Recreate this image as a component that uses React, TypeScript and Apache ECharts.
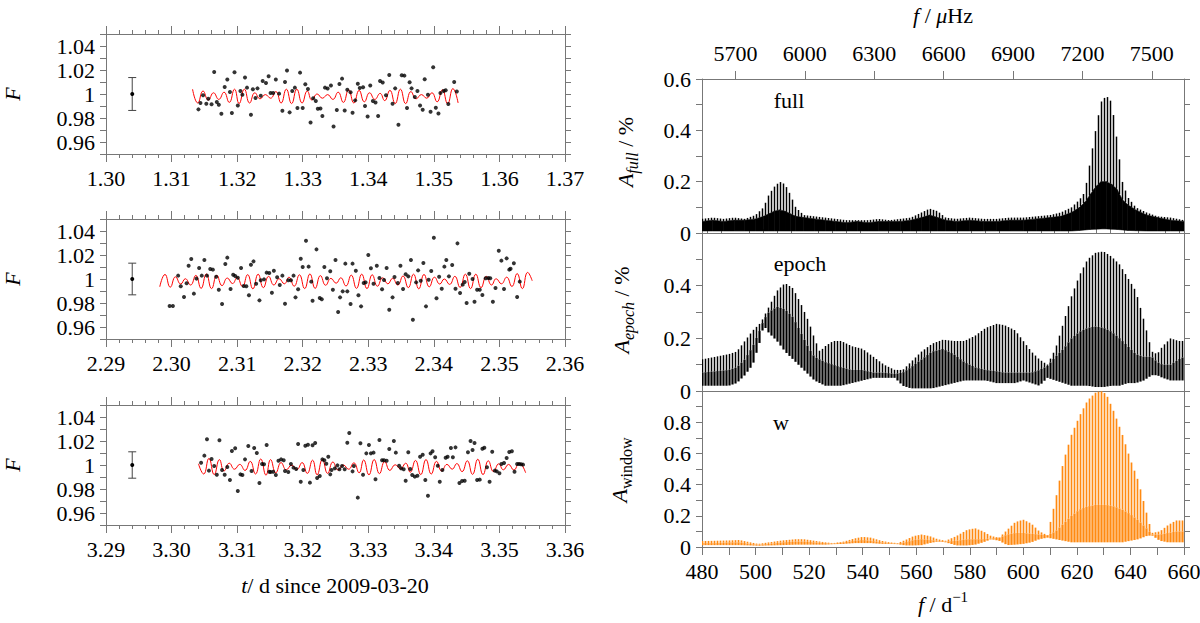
import React, { useEffect, useRef } from "react";
import * as echarts from "echarts";

// ---------------- light-curve panels (left) ----------------
const T_MIN = [1.3, 2.29, 3.29];
const T_SPAN = 0.07;

const T1 = [1.3141,1.3144,1.3148,1.3153,1.3156,1.3161,1.3165,1.3169,1.3172,1.3176,1.3181,1.3185,1.3189,1.3192,1.3196,1.3201,1.3205,1.3208,1.3212,1.3215,1.3221,1.3224,1.3228,1.3231,1.3236,1.3239,1.3244,1.3248,1.3251,1.3255,1.3259,1.3264,1.3269,1.3273,1.3276,1.3280,1.3284,1.3288,1.3292,1.3296,1.3300,1.3304,1.3308,1.3312,1.3316,1.3320,1.3323,1.3327,1.3330,1.3334,1.3338,1.3343,1.3347,1.3352,1.3356,1.3360,1.3364,1.3368,1.3373,1.3376,1.3380,1.3384,1.3387,1.3392,1.3395,1.3399,1.3403,1.3407,1.3411,1.3415,1.3418,1.3422,1.3427,1.3432,1.3437,1.3441,1.3446,1.3451,1.3455,1.3459,1.3463,1.3466,1.3471,1.3475,1.3479,1.3483,1.3486,1.3491,1.3495,1.3499,1.3503,1.3507,1.3510,1.3515,1.3518,1.3522,1.3531,1.3535];
const F1 = [0.9872,0.9925,0.9989,0.9919,0.9961,0.9914,1.0184,0.9933,0.9911,0.9836,1.0059,1.0120,1.0017,0.9841,1.0181,0.9905,1.0025,0.9994,1.0137,1.0053,0.9827,1.0039,0.9967,1.0047,0.9986,1.0109,1.0092,1.0148,1.0008,1.0008,1.0120,1.0003,0.9861,1.0100,1.0195,0.9847,1.0025,1.0053,0.9883,1.0178,0.9883,1.0081,1.0042,0.9763,0.9964,0.9941,0.9877,0.9880,0.9816,1.0053,1.0045,1.0070,0.9730,0.9866,1.0084,1.0128,0.9863,1.0036,1.0014,0.9844,0.9947,1.0086,1.0050,1.0056,0.9900,0.9813,1.0070,0.9941,0.9930,0.9816,1.0109,1.0095,0.9989,1.0159,0.9919,1.0047,0.9744,1.0156,1.0153,0.9883,1.0098,1.0047,0.9975,1.0025,0.9905,0.9869,1.0123,0.9994,0.9852,1.0223,0.9886,0.9838,1.0008,1.0025,1.0031,0.9916,1.0100,1.0020];

const T2 = [2.2997,2.3002,2.3010,2.3014,2.3019,2.3023,2.3026,2.3030,2.3034,2.3038,2.3042,2.3046,2.3050,2.3054,2.3059,2.3063,2.3068,2.3072,2.3077,2.3082,2.3085,2.3090,2.3094,2.3097,2.3101,2.3106,2.3110,2.3114,2.3118,2.3121,2.3125,2.3129,2.3134,2.3136,2.3141,2.3145,2.3149,2.3153,2.3156,2.3161,2.3165,2.3169,2.3173,2.3178,2.3182,2.3186,2.3189,2.3193,2.3197,2.3200,2.3205,2.3209,2.3213,2.3215,2.3221,2.3226,2.3229,2.3233,2.3237,2.3242,2.3246,2.3250,2.3254,2.3257,2.3261,2.3265,2.3268,2.3273,2.3276,2.3281,2.3285,2.3289,2.3293,2.3296,2.3300,2.3304,2.3308,2.3313,2.3317,2.3321,2.3324,2.3328,2.3332,2.3337,2.3340,2.3345,2.3349,2.3353,2.3357,2.3361,2.3365,2.3368,2.3373,2.3376,2.3380,2.3384,2.3388,2.3392,2.3396,2.3400,2.3404,2.3408,2.3412,2.3416,2.3419,2.3423,2.3428,2.3433,2.3436,2.3440,2.3444,2.3447,2.3450,2.3454,2.3459,2.3462,2.3466,2.3470,2.3474,2.3479,2.3483,2.3486,2.3490,2.3494,2.3499,2.3503,2.3507,2.3511,2.3515,2.3517,2.3522,2.3527,2.3531];
const F2 = [0.9775,0.9775,1.0028,0.9939,0.9850,0.9964,1.0111,1.0167,0.9878,1.0003,1.0092,1.0028,1.0158,1.0028,1.0083,1.0078,1.0019,0.9911,0.9792,1.0125,1.0178,0.9917,1.0036,1.0025,1.0011,1.0092,0.9942,0.9939,0.9864,1.0119,1.0147,0.9961,0.9822,0.9989,0.9997,1.0053,1.0050,0.9886,1.0069,1.0014,0.9950,1.0028,0.9794,0.9989,0.9989,1.0028,0.9847,0.9914,1.0169,1.0100,1.0319,1.0103,0.9978,0.9819,1.0247,0.9842,0.9831,1.0100,1.0006,1.0064,0.9911,1.0158,0.9725,0.9847,0.9897,1.0128,0.9897,0.9792,1.0128,1.0069,0.9864,0.9772,0.9967,0.9972,1.0200,1.0089,0.9961,1.0111,1.0008,0.9914,0.9992,1.0092,0.9744,0.9847,1.0017,0.9967,1.0111,0.9917,1.0039,1.0022,1.0158,0.9661,0.9972,1.0072,0.9986,1.0133,0.9772,0.9994,1.0067,1.0344,0.9839,1.0019,0.9919,1.0103,1.0158,1.0022,1.0117,0.9919,1.0297,0.9883,0.9953,0.9975,0.9800,1.0044,1.0000,0.9811,0.9911,0.9911,0.9867,1.0006,1.0008,1.0006,0.9811,0.9925,1.0236,1.0153,0.9917,1.0172,1.0078,1.0086,1.0131,0.9850,0.9978];

const T3 = [3.3045,3.3050,3.3054,3.3057,3.3061,3.3065,3.3069,3.3073,3.3077,3.3081,3.3085,3.3089,3.3092,3.3097,3.3101,3.3105,3.3108,3.3112,3.3117,3.3122,3.3126,3.3130,3.3134,3.3138,3.3141,3.3145,3.3149,3.3151,3.3155,3.3159,3.3163,3.3167,3.3171,3.3173,3.3178,3.3182,3.3186,3.3190,3.3193,3.3197,3.3201,3.3204,3.3208,3.3211,3.3215,3.3219,3.3222,3.3226,3.3230,3.3233,3.3236,3.3239,3.3242,3.3244,3.3249,3.3253,3.3256,3.3260,3.3264,3.3268,3.3271,3.3276,3.3278,3.3284,3.3288,3.3292,3.3297,3.3301,3.3304,3.3308,3.3311,3.3317,3.3321,3.3324,3.3328,3.3332,3.3339,3.3342,3.3347,3.3350,3.3354,3.3357,3.3361,3.3364,3.3367,3.3371,3.3375,3.3379,3.3383,3.3387,3.3391,3.3395,3.3398,3.3402,3.3406,3.3409,3.3413,3.3418,3.3421,3.3426,3.3429,3.3433,3.3439,3.3443,3.3447,3.3452,3.3456,3.3459,3.3462,3.3466,3.3470,3.3474,3.3477,3.3481,3.3485,3.3489,3.3493,3.3496,3.3500,3.3503,3.3507,3.3511,3.3515,3.3519,3.3523,3.3527,3.3530,3.3533,3.3536];
const F3 = [1.0019,1.0078,1.0214,0.9953,1.0050,0.9992,0.9919,1.0206,0.9958,0.9919,0.9983,0.9875,1.0117,1.0139,0.9783,0.9922,0.9917,1.0047,1.0158,0.9950,1.0142,1.0100,0.9850,1.0008,1.0006,1.0167,0.9944,0.9942,0.9944,0.9917,1.0036,1.0047,1.0039,0.9950,0.9942,1.0008,0.9978,0.9967,1.0175,0.9861,0.9958,1.0161,1.0169,0.9853,1.0164,1.0183,0.9892,0.9908,1.0047,1.0039,1.0011,1.0069,0.9922,0.9958,0.9972,0.9997,0.9964,0.9992,0.9964,1.0186,1.0267,0.9947,0.9992,0.9728,1.0181,0.9919,1.0097,1.0167,1.0097,1.0103,0.9881,1.0208,1.0039,1.0039,1.0036,1.0133,1.0200,1.0103,0.9994,0.9972,0.9964,0.9869,1.0106,0.9967,0.9917,0.9903,0.9911,1.0069,1.0086,0.9875,0.9744,1.0097,1.0114,1.0064,0.9994,0.9861,0.9958,1.0061,1.0069,1.0142,1.0064,1.0147,0.9850,0.9867,0.9869,1.0106,1.0200,1.0125,1.0183,0.9875,0.9878,1.0136,1.0144,0.9981,0.9861,1.0111,0.9953,0.9947,0.9931,1.0008,1.0017,1.0058,1.0108,1.0114,0.9944,1.0008,1.0008,1.0006,1.0003];

// model curves (extrema)
const M1_T = [1.3132,1.3140,1.3148,1.3156,1.3164,1.3172,1.3180,1.3188,1.3196,1.3203,1.3211,1.3219,1.3227,1.3235,1.3243,1.3251,1.3259,1.3267,1.3275,1.3283,1.3291,1.3299,1.3307,1.3314,1.3322,1.3330,1.3338,1.3346,1.3354,1.3362,1.3370,1.3378,1.3386,1.3394,1.3402,1.3410,1.3418,1.3425,1.3433,1.3441,1.3449,1.3457,1.3465,1.3473,1.3481,1.3489,1.3497,1.3505,1.3513,1.3521,1.3529,1.3537];
const M1_F = [1.0040,0.9925,1.0025,0.9950,1.0010,0.9955,1.0015,0.9930,1.0040,0.9920,1.0040,0.9925,1.0010,0.9960,0.9995,0.9965,1.0020,0.9925,1.0040,0.9920,1.0040,0.9925,1.0025,0.9950,1.0000,0.9965,0.9995,0.9955,1.0015,0.9930,1.0035,0.9925,1.0030,0.9935,1.0010,0.9955,1.0005,0.9945,1.0030,0.9920,1.0040,0.9920,1.0020,0.9960,0.9995,0.9965,1.0010,0.9935,1.0035,0.9920,1.0045,0.9925];
const M2_T = [2.2982,2.2990,2.2998,2.3006,2.3014,2.3021,2.3029,2.3037,2.3045,2.3053,2.3061,2.3069,2.3077,2.3085,2.3093,2.3100,2.3108,2.3116,2.3124,2.3132,2.3140,2.3148,2.3156,2.3164,2.3172,2.3179,2.3187,2.3195,2.3203,2.3211,2.3219,2.3227,2.3235,2.3243,2.3251,2.3258,2.3266,2.3274,2.3282,2.3290,2.3298,2.3306,2.3314,2.3322,2.3330,2.3337,2.3345,2.3353,2.3361,2.3369,2.3377,2.3385,2.3393,2.3401,2.3409,2.3416,2.3424,2.3432,2.3440,2.3448,2.3456,2.3464,2.3472,2.3480,2.3488,2.3495,2.3503,2.3511,2.3519,2.3527,2.3535,2.3543,2.3550];
const M2_F = [0.9935,1.0038,0.9932,1.0018,0.9958,1.0002,0.9950,1.0030,0.9922,1.0042,0.9920,1.0030,0.9945,1.0008,0.9962,1.0012,0.9938,1.0036,0.9918,1.0040,0.9928,1.0022,0.9950,1.0002,0.9960,1.0015,0.9940,1.0035,0.9920,1.0042,0.9922,1.0028,0.9948,1.0005,0.9965,1.0010,0.9942,1.0032,0.9922,1.0040,0.9920,1.0035,0.9940,1.0010,0.9960,1.0005,0.9950,1.0025,0.9928,1.0040,0.9918,1.0038,0.9935,1.0015,0.9958,1.0000,0.9955,1.0022,0.9930,1.0040,0.9920,1.0040,0.9928,1.0022,0.9950,1.0002,0.9960,1.0015,0.9938,1.0045,0.9920,1.0055,0.9985];
const M3_T = [3.3041,3.3049,3.3057,3.3065,3.3073,3.3080,3.3088,3.3096,3.3104,3.3112,3.3120,3.3128,3.3136,3.3144,3.3151,3.3159,3.3167,3.3175,3.3183,3.3191,3.3199,3.3207,3.3215,3.3222,3.3230,3.3238,3.3246,3.3254,3.3262,3.3270,3.3278,3.3286,3.3293,3.3301,3.3309,3.3317,3.3325,3.3333,3.3341,3.3349,3.3357,3.3364,3.3372,3.3380,3.3388,3.3396,3.3404,3.3412,3.3420,3.3428,3.3435,3.3443,3.3451,3.3459,3.3467,3.3475,3.3483,3.3491,3.3499,3.3506,3.3514,3.3522,3.3530,3.3540];
const M3_F = [1.0010,0.9925,1.0055,0.9920,1.0045,0.9950,1.0015,0.9965,1.0005,0.9955,1.0030,0.9925,1.0050,0.9915,1.0045,0.9935,1.0020,0.9960,0.9998,0.9962,1.0020,0.9930,1.0040,0.9918,1.0045,0.9930,1.0025,0.9958,1.0000,0.9965,1.0018,0.9935,1.0042,0.9918,1.0045,0.9928,1.0028,0.9955,1.0002,0.9968,1.0015,0.9940,1.0038,0.9920,1.0045,0.9925,1.0030,0.9950,1.0005,0.9965,1.0012,0.9945,1.0035,0.9922,1.0048,0.9920,1.0035,0.9945,1.0010,0.9960,1.0005,0.9958,1.0015,0.9935];

const ERR_T = [1.304, 2.294, 3.294];
const ERR_F = [1, 1, 1];
const ERR_E = [0.0137, 0.0132, 0.011];

// ---------------- amplitude spectra (right) ----------------
// envelopes: P = alias-peak tips, S = inner (secondary) envelope, L = lower ends
const FU_F = [480,484,488,492,496,500,503,505,507,509,511,513,515,518,522,526,530,534,538,542,546,550,554,558,562,565,568,571,575,580,585,590,595,600,605,610,614,618,621,623,625,627,629,631,633,635,637,639,642,646,650,655,660];
const FU_P = [0.055,0.06,0.055,0.06,0.055,0.07,0.10,0.15,0.18,0.20,0.19,0.15,0.10,0.07,0.065,0.06,0.055,0.05,0.05,0.05,0.055,0.05,0.055,0.06,0.08,0.095,0.085,0.06,0.055,0.06,0.055,0.055,0.06,0.06,0.065,0.07,0.08,0.10,0.13,0.16,0.28,0.40,0.51,0.535,0.51,0.36,0.20,0.14,0.10,0.08,0.065,0.06,0.05];
const FU_S = [0.045,0.05,0.045,0.05,0.05,0.055,0.065,0.075,0.085,0.09,0.085,0.075,0.065,0.06,0.055,0.05,0.045,0.04,0.045,0.04,0.045,0.045,0.045,0.05,0.06,0.07,0.06,0.05,0.045,0.05,0.045,0.045,0.05,0.05,0.055,0.06,0.065,0.08,0.10,0.12,0.15,0.18,0.20,0.20,0.19,0.17,0.13,0.11,0.09,0.07,0.06,0.05,0.045];
const FU_L = [0.008,0.008,0.008,0.008,0.008,0.008,0.008,0.008,0.008,0.008,0.008,0.008,0.008,0.008,0.008,0.008,0.008,0.008,0.008,0.008,0.008,0.008,0.008,0.008,0.008,0.008,0.008,0.008,0.008,0.008,0.008,0.008,0.008,0.008,0.008,0.008,0.008,0.008,0.01,0.012,0.014,0.015,0.016,0.016,0.015,0.014,0.012,0.01,0.009,0.008,0.008,0.008,0.008];

const EP_F = [480,485,490,493,496,499,502,503,505,508,511,514,517,520,522,524,526,529,532,536,540,544,548,552,555,558,562,566,570,574,578,582,586,590,593,597,600,603,606,609,612,615,618,621,624,627,630,633,636,639,642,645,648,650,652,655,658,660];
const EP_P = [0.12,0.13,0.14,0.15,0.19,0.23,0.26,0.28,0.32,0.38,0.41,0.39,0.33,0.26,0.20,0.15,0.17,0.19,0.19,0.17,0.16,0.13,0.10,0.08,0.08,0.11,0.15,0.18,0.195,0.19,0.19,0.21,0.24,0.255,0.25,0.23,0.19,0.15,0.12,0.10,0.16,0.26,0.36,0.44,0.50,0.525,0.53,0.51,0.48,0.43,0.38,0.27,0.15,0.14,0.17,0.20,0.19,0.19];
const EP_S = [0.07,0.075,0.08,0.09,0.12,0.17,0.24,0.27,0.30,0.32,0.31,0.28,0.22,0.16,0.13,0.12,0.11,0.10,0.09,0.08,0.08,0.07,0.07,0.065,0.07,0.09,0.12,0.15,0.16,0.14,0.11,0.09,0.08,0.075,0.07,0.07,0.07,0.07,0.08,0.095,0.13,0.16,0.20,0.225,0.24,0.245,0.24,0.225,0.20,0.17,0.14,0.13,0.13,0.11,0.10,0.10,0.12,0.13];
const EP_L = [0.02,0.02,0.02,0.03,0.06,0.10,0.20,0.25,0.22,0.19,0.15,0.12,0.09,0.06,0.04,0.03,0.02,0.02,0.02,0.03,0.04,0.05,0.05,0.05,0.02,0.01,0.01,0.01,0.02,0.03,0.04,0.04,0.04,0.03,0.03,0.03,0.04,0.03,0.02,0.05,0.04,0.03,0.02,0.02,0.02,0.015,0.015,0.02,0.02,0.03,0.03,0.04,0.06,0.06,0.05,0.04,0.04,0.04];

const WI_F = [480,485,490,494,498,501,505,510,515,518,522,526,529,533,537,540,543,547,550,553,556,559,562,565,568,571,575,579,582,585,588,591,594,597,600,603,606,609,612,615,618,621,624,627,629,631,634,637,640,643,646,648,651,654,657,660];
const WI_P = [0.038,0.04,0.042,0.045,0.03,0.02,0.03,0.042,0.05,0.05,0.04,0.03,0.025,0.035,0.055,0.065,0.06,0.04,0.03,0.025,0.045,0.07,0.08,0.07,0.05,0.04,0.07,0.11,0.12,0.10,0.07,0.06,0.11,0.16,0.175,0.15,0.10,0.075,0.30,0.55,0.72,0.84,0.94,0.99,1.0,0.98,0.86,0.72,0.56,0.42,0.22,0.09,0.10,0.14,0.17,0.17];
const WI_S = [0.025,0.025,0.03,0.03,0.02,0.015,0.02,0.03,0.035,0.035,0.03,0.025,0.022,0.03,0.04,0.045,0.04,0.03,0.025,0.022,0.03,0.045,0.05,0.045,0.04,0.035,0.04,0.05,0.05,0.05,0.055,0.06,0.08,0.09,0.09,0.085,0.08,0.075,0.10,0.15,0.20,0.24,0.26,0.27,0.27,0.27,0.26,0.24,0.21,0.17,0.12,0.08,0.08,0.09,0.10,0.10];
const WI_L = [0.012,0.012,0.012,0.012,0.01,0.008,0.01,0.012,0.015,0.015,0.015,0.015,0.018,0.02,0.025,0.025,0.025,0.02,0.02,0.018,0.01,0.01,0.012,0.025,0.035,0.03,0.01,0.01,0.015,0.03,0.05,0.04,0.012,0.015,0.02,0.03,0.05,0.06,0.05,0.04,0.03,0.03,0.03,0.03,0.03,0.03,0.03,0.03,0.04,0.05,0.07,0.075,0.04,0.03,0.03,0.03];

// top axis in µHz
const MU_MAJOR = [5700, 6000, 6300, 6600, 6900, 7200, 7500];
const MU_MINOR = [5580,5640,5760,5820,5880,5940,6060,6120,6180,6240,6360,6420,6480,6540,6660,6720,6780,6840,6960,7020,7080,7140,7260,7320,7380,7440,7560,7620];
const D_PER_UHZ = 0.0864; // 1 µHz in d^-1

// ---------------- styling ----------------
const FONT = '"Liberation Serif", "Times New Roman", Times, serif';
const FS = 22;
const AXC = "#777777";
const ORANGE = "#ff8a12";
const HATCH = 3; // hatch spacing in px

const ls = { color: AXC, width: 1 };

// comb-like hatch between envelopes, drawn through the axes' coordinates
function hatchSeries(F: number[], P: number[], S: number[], L: number[], xi: number, yi: number, color: string, wDark: number, wLight: number, solidDark: boolean) {
  return {
    type: "custom", xAxisIndex: xi, yAxisIndex: yi, clip: true, silent: true, z: 2,
    data: F.map((f, i) => [f, L[i], S[i], P[i]]),
    renderItem: (params: any, api: any) => {
      const i = params.dataIndex;
      if (i >= F.length - 1) return null;
      const origin = Math.round(api.coord([F[0], 0])[0]);
      const l0 = api.coord([api.value(0), api.value(1)]);
      const s0 = api.coord([api.value(0), api.value(2)]);
      const p0 = api.coord([api.value(0), api.value(3)]);
      const l1 = api.coord([F[i + 1], L[i + 1]]);
      const s1 = api.coord([F[i + 1], S[i + 1]]);
      const p1 = api.coord([F[i + 1], P[i + 1]]);
      const x0 = l0[0], x1 = l1[0];
      const children: any[] = [];
      if (solidDark) {
        children.push({ type: "polygon", shape: { points: [l0, l1, s1, s0] }, style: { fill: color, stroke: color, lineWidth: 0.6 } });
      }
      const n0 = Math.ceil((x0 - origin - 0.5) / HATCH);
      for (let n = n0; origin + n * HATCH + 0.5 < x1; n++) {
        const x = origin + n * HATCH + 0.5;
        const t = (x - x0) / (x1 - x0);
        const yl = l0[1] + t * (l1[1] - l0[1]);
        const ys = s0[1] + t * (s1[1] - s0[1]);
        const yp = p0[1] + t * (p1[1] - p0[1]);
        if (!solidDark) {
          children.push({ type: "line", shape: { x1: x, y1: yl, x2: x, y2: ys }, style: { stroke: color, lineWidth: wDark } });
        }
        children.push({ type: "line", shape: { x1: x, y1: ys, x2: x, y2: yp }, style: { stroke: color, lineWidth: wLight } });
      }
      return { type: "group", children };
    },
  };
}

function buildOption() {
  const grid: any[] = [
    ...[34, 219, 405].map((top) => ({ left: 106, top, width: 459, height: 120 })),
    { left: 702, top: 79, width: 482, height: 154 },
    { left: 702, top: 233, width: 482, height: 158 },
    { left: 702, top: 391, width: 482, height: 156 },
    { left: 702, top: 79, width: 482, height: 154 },
  ].map((g) => ({ ...g, containLabel: false, outerBoundsMode: "none" }));

  const xAxis: any[] = [];
  const yAxis: any[] = [];
  for (let i = 0; i < 3; i++) {
    for (const pos of ["bottom", "top"]) {
      xAxis.push({
        gridIndex: i, type: "value", position: pos,
        min: T_MIN[i], max: +(T_MIN[i] + T_SPAN).toFixed(2), interval: 0.01,
        axisLine: { show: true, onZero: false, lineStyle: ls },
        axisTick: { show: true, length: 8, lineStyle: ls },
        minorTick: { show: true, splitNumber: 5, length: 4, lineStyle: ls },
        splitLine: { show: false },
        axisLabel: {
          show: pos === "bottom", fontFamily: FONT, fontSize: FS, color: "#000", margin: 13,
          formatter: (v: number) => v.toFixed(2),
        },
      });
    }
    for (const pos of ["left", "right"]) {
      yAxis.push({
        gridIndex: i, type: "value", position: pos, min: 0.95, max: 1.05, interval: 0.01,
        axisLine: { show: true, onZero: false, lineStyle: ls },
        axisTick: { show: true, length: 6, lineStyle: ls },
        splitLine: { show: false },
        axisLabel: {
          show: pos === "left", fontFamily: FONT, fontSize: FS, color: "#000", margin: 11,
          formatter: (v: number) => {
            const k = Math.round(v * 100);
            if (k % 2 !== 0 || k < 96 || k > 104) return "";
            return k === 100 ? "1" : (k / 100).toFixed(2);
          },
        },
      });
    }
  }
  // right: x axes  (6: full bottom, 7: full top µHz, 8: epoch bottom, 9: window bottom, 10: µHz minor)
  const plainX = (g: number) => ({
    gridIndex: g, type: "value", position: "bottom", min: 480, max: 660,
    axisLine: { show: true, onZero: false, lineStyle: ls },
    axisTick: { show: false }, axisLabel: { show: false }, splitLine: { show: false },
  });
  xAxis.push(plainX(3));
  xAxis.push({
    gridIndex: 3, type: "value", position: "top", min: 480, max: 660,
    axisLine: { show: true, onZero: false, lineStyle: ls },
    axisTick: { show: true, length: 8, lineStyle: ls, customValues: MU_MAJOR.map((u) => u * D_PER_UHZ) },
    axisLabel: {
      show: true, fontFamily: FONT, fontSize: FS, color: "#000", margin: 15,
      customValues: MU_MAJOR.map((u) => u * D_PER_UHZ),
      formatter: (v: number) => String(Math.round(v / D_PER_UHZ)),
    },
    splitLine: { show: false },
  });
  xAxis.push(plainX(4));
  xAxis.push({
    gridIndex: 5, type: "value", position: "bottom", min: 480, max: 660, interval: 10,
    axisLine: { show: true, onZero: false, lineStyle: ls },
    axisTick: { show: true, length: 8, lineStyle: ls },
    splitLine: { show: false },
    axisLabel: {
      show: true, fontFamily: FONT, fontSize: FS, color: "#000", margin: 13,
      formatter: (v: number) => (Math.round(v) % 20 === 0 ? String(Math.round(v)) : ""),
    },
  });
  xAxis.push({
    gridIndex: 6, type: "value", position: "top", min: 480, max: 660,
    axisLine: { show: false },
    axisTick: { show: true, length: 4, lineStyle: ls, customValues: MU_MINOR.map((u) => u * D_PER_UHZ) },
    axisLabel: { show: false }, splitLine: { show: false },
  });
  // right: y axes (6/7 full, 8/9 epoch, 10/11 window, 12 dummy)
  const rightY = (g: number, max: number, hideTop: boolean) =>
    ["left", "right"].map((pos) => ({
      gridIndex: g, type: "value", position: pos, min: 0, max, interval: 0.1,
      axisLine: { show: true, onZero: false, lineStyle: ls },
      axisTick: { show: true, length: 6, lineStyle: ls },
      splitLine: { show: false },
      axisLabel: {
        show: pos === "left", fontFamily: FONT, fontSize: FS, color: "#000", margin: 11,
        formatter: (v: number) => {
          const k = Math.round(v * 10);
          if (k % 2 !== 0) return "";
          if (hideTop && k === Math.round(max * 10)) return "";
          return String(k / 10);
        },
      },
    }));
  yAxis.push(...rightY(3, 0.6, false));
  yAxis.push(...rightY(4, 0.6, true));
  yAxis.push(...rightY(5, 1.0, true));
  yAxis.push({ gridIndex: 6, type: "value", min: 0, max: 1, show: false });

  const series: any[] = [];
  const scat = [[T1, F1], [T2, F2], [T3, F3]];
  const mods = [[M1_T, M1_F], [M2_T, M2_F], [M3_T, M3_F]];
  for (let i = 0; i < 3; i++) {
    series.push({
      type: "line", xAxisIndex: 2 * i, yAxisIndex: 2 * i, smooth: true, symbol: "none",
      data: mods[i][0].map((t, k) => [t, mods[i][1][k]]),
      lineStyle: { color: "#ff0000", width: 1 }, z: 2,
    });
    series.push({
      type: "scatter", xAxisIndex: 2 * i, yAxisIndex: 2 * i, symbolSize: 4,
      data: scat[i][0].map((t, k) => [t, scat[i][1][k]]),
      itemStyle: { color: "#000" }, z: 3,
    });
    series.push({
      type: "custom", xAxisIndex: 2 * i, yAxisIndex: 2 * i, clip: false, z: 3,
      data: [[ERR_T[i], ERR_F[i], ERR_E[i]]],
      renderItem: (_p: any, api: any) => {
        const x = api.value(0), y = api.value(1), e = api.value(2);
        const c = api.coord([x, y]);
        const hi = api.coord([x, y + e]);
        const lo = api.coord([x, y - e]);
        const st = { stroke: "#444", lineWidth: 1 };
        return {
          type: "group",
          children: [
            { type: "line", shape: { x1: c[0], y1: hi[1], x2: c[0], y2: lo[1] }, style: st },
            { type: "line", shape: { x1: c[0] - 4, y1: hi[1], x2: c[0] + 4, y2: hi[1] }, style: st },
            { type: "line", shape: { x1: c[0] - 4, y1: lo[1], x2: c[0] + 4, y2: lo[1] }, style: st },
            { type: "circle", shape: { cx: c[0], cy: c[1], r: 2 }, style: { fill: "#000" } },
          ],
        };
      },
    });
  }

  series.push(hatchSeries(FU_F, FU_P, FU_S, FU_L, 6, 6, "#000", 2.2, 1.5, true));
  series.push(hatchSeries(EP_F, EP_P, EP_S, EP_L, 8, 8, "#000", 2.2, 1.5, false));
  series.push(hatchSeries(WI_F, WI_P, WI_S, WI_L, 9, 10, ORANGE, 2.3, 1.7, false));

  const txt = (x: number, y: number, text: string, rich: any = {}, rot = 0, size = FS) => ({
    type: "text", x, y, rotation: rot, z: 10,
    style: {
      text, fontFamily: FONT, fontSize: size, fill: "#000",
      align: "center", verticalAlign: "middle", textAlign: "center", textVerticalAlign: "middle",
      rich,
    },
  });
  const it = { fontStyle: "italic", fontFamily: FONT, fontSize: FS };
  const aRich = (subItalic: boolean) => ({
    a: { fontStyle: "italic", fontFamily: FONT, fontSize: FS, lineHeight: 30, verticalAlign: "middle" },
    s: { fontStyle: subItalic ? "italic" : "normal", fontFamily: FONT, fontSize: 16, lineHeight: 16, verticalAlign: "bottom" },
    n: { fontFamily: FONT, fontSize: FS, lineHeight: 30, verticalAlign: "middle" },
  });

  const graphic: any[] = [
    ...[94, 279, 465].map((y) => txt(12, y, "{i|F}", { i: it }, Math.PI / 2)),
    txt(335, 585, "{i|t}/ d since 2009-03-20", { i: it }),
    txt(943, 604, "{i|f} / d{sup|−1}", { i: it, sup: { fontFamily: FONT, fontSize: 15, lineHeight: 30, verticalAlign: "top" } }),
    txt(943, 15, "{i|f} / {i|μ}Hz", { i: it }),
    txt(625, 152, "{a|A}{s|full}{n| / %}", aRich(true), Math.PI / 2),
    txt(621, 310, "{a|A}{s|epoch}{n| / %}", aRich(true), Math.PI / 2),
    txt(619, 470, "{a|A}{s|window}", aRich(false), Math.PI / 2),
    txt(789, 100, "full"),
    txt(800, 263, "epoch"),
    txt(781, 422, "w"),
  ];

  return { animation: false, backgroundColor: "#fff", grid, xAxis, yAxis, series, graphic };
}

export default function App() {
  const ref = useRef<HTMLDivElement>(null);
  useEffect(() => {
    const chart = echarts.init(ref.current!, undefined, { renderer: "svg" });
    chart.setOption(buildOption() as any);
    return () => chart.dispose();
  }, []);
  return (
    <div
      ref={ref}
      style={{ position: "fixed", left: 0, top: 0, width: 1200, height: 623, background: "#fff" }}
    />
  );
}
